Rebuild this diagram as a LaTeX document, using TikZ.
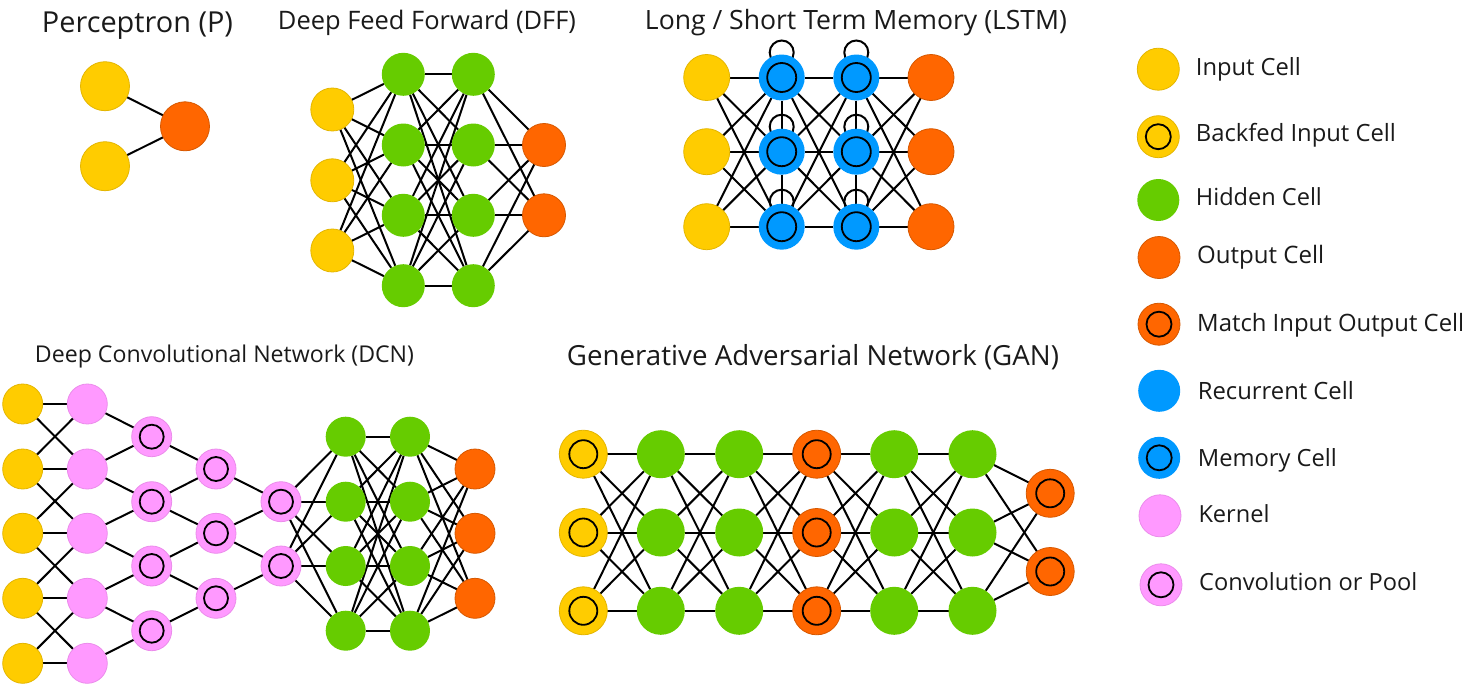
\documentclass[tikz,border=0pt]{standalone}
\usepackage{fontspec}
\setmainfont{Open Sans}
\usepackage{graphicx}
\usetikzlibrary{backgrounds}
\definecolor{cin}{RGB}{255,204,0}
\definecolor{cinb}{RGB}{228,182,0}
\definecolor{chid}{RGB}{102,204,0}
\definecolor{cout}{RGB}{255,102,0}
\definecolor{coutb}{RGB}{215,88,0}
\definecolor{crec}{RGB}{0,153,255}
\definecolor{cker}{RGB}{255,153,255}
\definecolor{ckerb}{RGB}{235,140,235}
\definecolor{ctxt}{RGB}{26,26,26}
\begin{document}
\begin{tikzpicture}[x=1pt,y=-1pt,
 cell/.style={circle,inner sep=0pt,outer sep=0pt,minimum size=#1},
 inp/.style={cell=#1,fill=cin,draw=cinb,line width=0.8pt},
 hid/.style={cell=#1,fill=chid},
 outc/.style={cell=#1,fill=cout,draw=coutb,line width=0.8pt},
 rec/.style={cell=#1,fill=crec},
 ker/.style={cell=#1,fill=cker,draw=ckerb,line width=0.8pt},
 ring/.style={path picture={\draw[black,line width=1.8pt] (path picture bounding box.center) circle (#1pt);}},
 link/.style={black,line width=2pt},
 ttl/.style={anchor=base,inner sep=0pt,text=ctxt},
 lbl/.style={anchor=base west,inner sep=0pt,text=ctxt},
]
\useasboundingbox (0,0) rectangle (1468,688);
\begin{pgfonlayer}{background}
\fill[white] (0,0) rectangle (1468,688);
\end{pgfonlayer}

% ---------- titles
\node[ttl] (t-p) at (137.5,32) {\resizebox{191pt}{!}{Perceptron (P)}};
\node[ttl] (t-d) at (427,29) {\resizebox{298pt}{!}{Deep Feed Forward (DFF)}};
\node[ttl] (t-l) at (856,30) {\resizebox{422pt}{!}{Long / Short Term Memory (LSTM)}};
\node[ttl] (t-c) at (224.5,362) {\resizebox{379pt}{!}{Deep Convolutional Network (DCN)}};
\node[ttl] (t-g) at (813,365) {\resizebox{492pt}{!}{Generative Adversarial Network (GAN)}};

% ---------- Perceptron
\node[inp=49pt] (p-i1) at (105,86.2) {};
\node[inp=49pt] (p-i2) at (105,166.2) {};
\node[outc=49pt] (p-o) at (185,126.3) {};
\begin{pgfonlayer}{background}
\draw[link] (p-i1) -- (p-o);
\draw[link] (p-i2) -- (p-o);
\end{pgfonlayer}

% ---------- DFF
\foreach \k/\y in {1/109.5,2/180.3,3/250.5} \node[inp=43pt] (d-i\k) at (332.3,\y) {};
\foreach \k/\y in {1/74.3,2/145,3/215.3,4/285.7} {
  \node[hid=43pt] (d-a\k) at (403.3,\y) {};
  \node[hid=43pt] (d-b\k) at (473.3,\y) {};
}
\foreach \k/\y in {1/145,2/215.3} \node[outc=43pt] (d-o\k) at (544,\y) {};
\begin{pgfonlayer}{background}
\foreach \i in {1,2,3} \foreach \j in {1,...,4} \draw[link] (d-i\i) -- (d-a\j);
\foreach \i in {1,...,4} \foreach \j in {1,...,4} \draw[link] (d-a\i) -- (d-b\j);
\foreach \i in {1,...,4} \foreach \j in {1,2} \draw[link] (d-b\i) -- (d-o\j);
\end{pgfonlayer}

% ---------- LSTM
\foreach \k/\y in {1/77.5,2/151.7,3/226.7} {
  \node[inp=46pt] (l-i\k) at (706.7,\y) {};
  \node[rec=46pt,ring=14.5] (l-a\k) at (781.7,\y) {};
  \node[rec=46pt,ring=14.5] (l-b\k) at (856.3,\y) {};
  \node[outc=46pt] (l-o\k) at (931,\y) {};
}
\begin{pgfonlayer}{background}
\foreach \i in {1,2,3} \foreach \j in {1,2,3} {
  \draw[link] (l-i\i) -- (l-a\j);
  \draw[link] (l-a\i) -- (l-b\j);
  \draw[link] (l-b\i) -- (l-o\j);
}
\foreach \c in {a,b} {
  \draw[link] (l-\c1) -- (l-\c2);
  \draw[link] (l-\c2) -- (l-\c3);
  \foreach \k in {1,2,3} \draw[link] ([yshift=25pt]l-\c\k.center) circle (12pt);
}
\end{pgfonlayer}

% ---------- DCN
\foreach \k/\y in {1/404,2/469,3/533.3,4/598.3,5/663.3} {
  \node[inp=40pt] (c-i\k) at (22.7,\y) {};
  \node[ker=40pt] (c-k\k) at (87.3,\y) {};
}
\foreach \k/\y in {1/436.7,2/501.7,3/566,4/630.7} {
  \node[ker=40pt,ring=12] (c-p\k) at (151.7,\y) {};
  \node[hid=40pt] (c-a\k) at (345.7,\y) {};
  \node[hid=40pt] (c-b\k) at (410,\y) {};
}
\foreach \k/\y in {1/469,2/533.3,3/598.3} {
  \node[ker=40pt,ring=12] (c-q\k) at (216,\y) {};
  \node[outc=40pt] (c-o\k) at (475,\y) {};
}
\foreach \k/\y in {1/501.7,2/566} \node[ker=40pt,ring=12] (c-r\k) at (281,\y) {};
\begin{pgfonlayer}{background}
\foreach \a/\b in {1/1,1/2,2/1,2/2,2/3,3/2,3/3,3/4,4/3,4/4,4/5,5/4,5/5} \draw[link] (c-i\a) -- (c-k\b);
\foreach \a/\b in {1/1,2/1,2/2,3/2,3/3,4/3,4/4,5/4} \draw[link] (c-k\a) -- (c-p\b);
\foreach \a/\b in {1/1,2/1,2/2,3/2,3/3,4/3} \draw[link] (c-p\a) -- (c-q\b);
\foreach \a/\b in {1/1,2/1,2/2,3/2} \draw[link] (c-q\a) -- (c-r\b);
\foreach \i in {1,2} \foreach \j in {1,...,4} \draw[link] (c-r\i) -- (c-a\j);
\foreach \i in {1,...,4} \foreach \j in {1,...,4} \draw[link] (c-a\i) -- (c-b\j);
\foreach \i in {1,...,4} \foreach \j in {1,2,3} \draw[link] (c-b\i) -- (c-o\j);
\end{pgfonlayer}

% ---------- GAN
\foreach \k/\y in {1/454.2,2/532.5,3/610.8} {
  \node[inp=48pt,ring=14] (g-1\k) at (583.3,\y) {};
  \node[hid=48pt] (g-2\k) at (660.8,\y) {};
  \node[hid=48pt] (g-3\k) at (739.2,\y) {};
  \node[outc=48pt,ring=14] (g-4\k) at (816.7,\y) {};
  \node[hid=48pt] (g-5\k) at (894.2,\y) {};
  \node[hid=48pt] (g-6\k) at (972.5,\y) {};
}
\foreach \k/\y in {1/493.3,2/571.5} \node[outc=48pt,ring=14] (g-7\k) at (1050.2,\y) {};
\begin{pgfonlayer}{background}
\foreach \c/\d in {1/2,2/3,3/4,4/5,5/6} \foreach \i in {1,2,3} \foreach \j in {1,2,3} \draw[link] (g-\c\i) -- (g-\d\j);
\foreach \i in {1,2,3} \foreach \j in {1,2} \draw[link] (g-6\i) -- (g-7\j);
\end{pgfonlayer}

% ---------- legend
\node[inp=42pt] (k1) at (1158.3,69.2) {};
\node[inp=42pt,ring=12.5] (k2) at (1158.3,136.7) {};
\node[hid=42pt] (k3) at (1158.3,200) {};
\node[outc=42pt] (k4) at (1159,257.5) {};
\node[outc=42pt,ring=12.5] (k5) at (1159,324.2) {};
\node[rec=42pt] (k6) at (1159.2,390.8) {};
\node[rec=42pt,ring=12.5] (k7) at (1159.2,457.8) {};
\node[ker=42pt] (k8) at (1160,515.8) {};
\node[ker=42pt,ring=12.5] (k9) at (1161,584.8) {};
\node[lbl] (kt1) at (1195.7,75.7) {\resizebox{105pt}{!}{Input Cell}};
\node[lbl] (kt2) at (1195.7,141.7) {\resizebox{200pt}{!}{Backfed Input Cell}};
\node[lbl] (kt3) at (1195.7,205.7) {\resizebox{126pt}{!}{Hidden Cell}};
\node[lbl] (kt4) at (1197,263.3) {\resizebox{127pt}{!}{Output Cell}};
\node[lbl] (kt5) at (1197,331.7) {\resizebox{267pt}{!}{Match Input Output Cell}};
\node[lbl] (kt6) at (1197.7,399.3) {\resizebox{156pt}{!}{Recurrent Cell}};
\node[lbl] (kt7) at (1197.7,466.7) {\resizebox{139pt}{!}{Memory Cell}};
\node[lbl] (kt8) at (1198.3,522.3) {\resizebox{71pt}{!}{Kernel}};
\node[lbl] (kt9) at (1199,590.7) {\resizebox{218pt}{!}{Convolution or Pool}};
\end{tikzpicture}
\end{document}
